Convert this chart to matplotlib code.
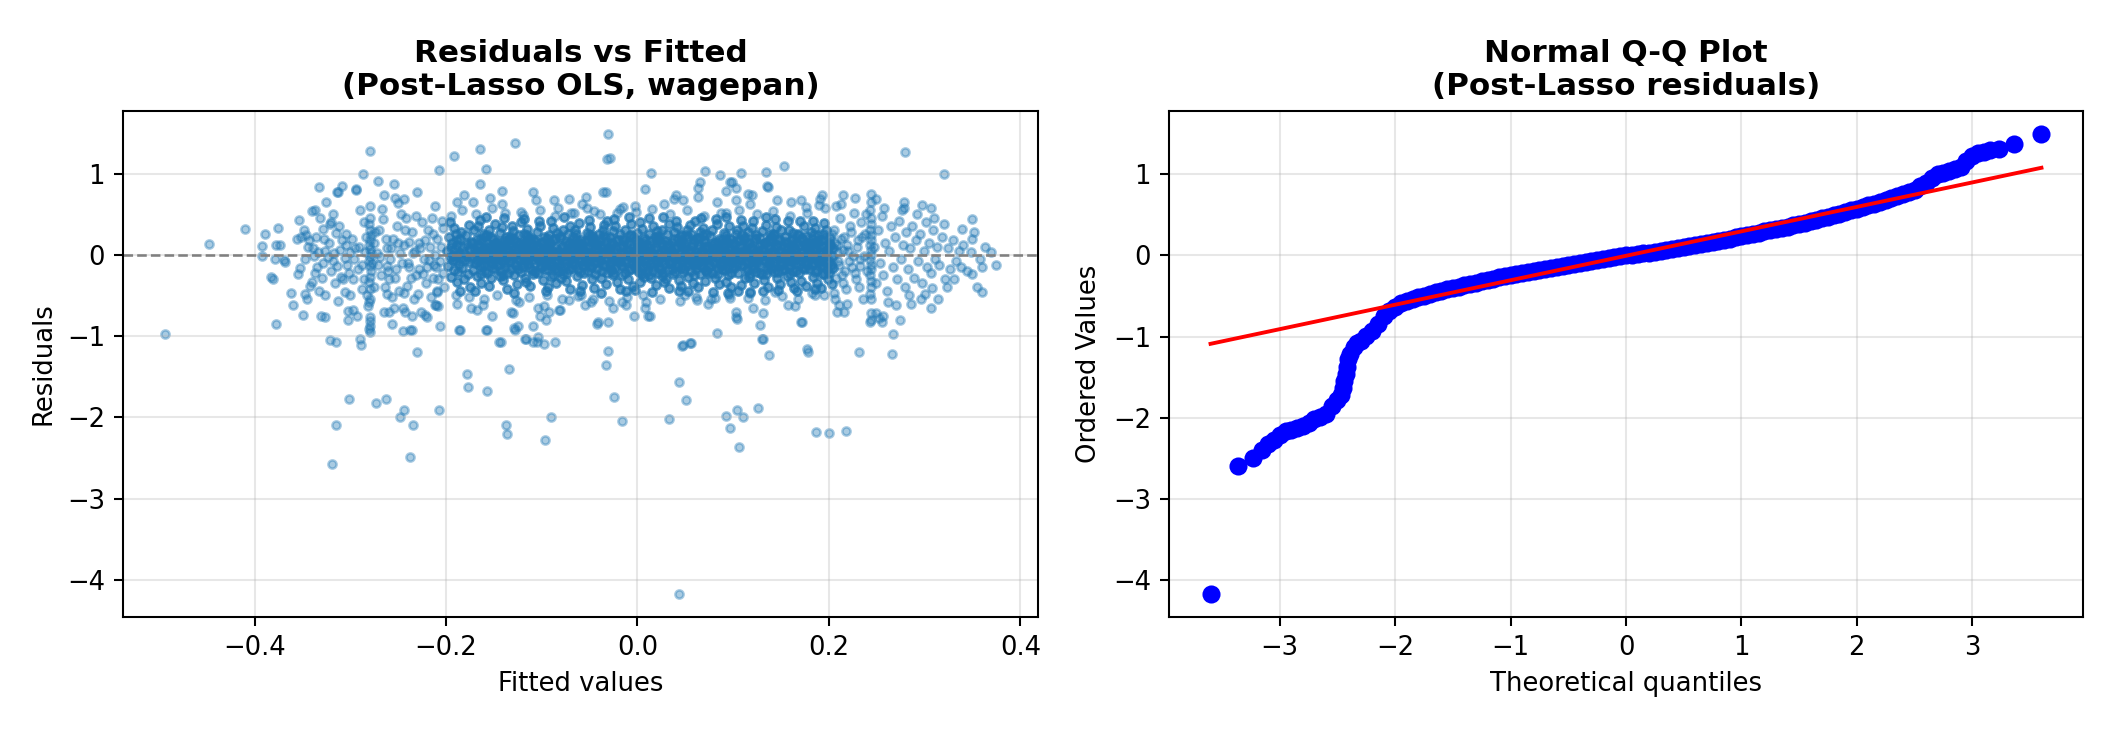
import numpy as np
import matplotlib
matplotlib.use("Agg")
import matplotlib.pyplot as plt

# ---------------- Residuals vs Fitted (fitted x1000, residual x100) ----------------
outlier_points = [
    (-494, -97), (-448, 13), (-410, 32),
    (-319, -257), (-315, -210), (-301, -178), (-273, -182), (-263, -177), (-248, -200),
    (-244, -191), (-234, -209), (-238, -249), (-230, -120), (-207, -191), (-178, -147),
    (-177, -163), (-157, -167), (-137, -209), (-136, -221), (-134, -140), (-97, -228),
    (-90, -200), (-31, -118), (-33, -136), (-24, -175), (-16, -205), (33, -202), (43, -157),
    (51, -179), (43, -417), (47, -112), (55, -109), (93, -198), (97, -213), (104, -191),
    (110, -200), (106, -237), (126, -189), (137, -123), (131, -104),
    (-321, -105), (-315, -107), (-290, -103), (-289, -111), (-143, -107), (-116, -104),
    (-105, -107), (-98, -110), (-86, -107),
    (187, -218), (200, -219), (218, -217), (178, -120), (231, -120), (266, -122), (267, -97),
    (274, -80), (172, -83),
    (-279, 128), (-192, 122), (-165, 130), (-128, 137), (-31, 149), (-32, 118), (-29, 119),
    (279, 126), (320, 99), (153, 109),
]

sparse_points = [
    (-389, 25), (-392, 11), (-378, 12), (-373, 12), (-376, 33), (-392, -1), (-379, -5), (-383, -27),
    (-381, -30), (-362, -47), (-360, -62), (-378, -85), (-354, 43), (-356, 20), (-352, 22), (-353, -16),
    (-355, -24), (-369, -6), (-348, 30), (-346, 24), (-340, 54), (-333, 83), (-332, 45), (-325, 65),
    (-349, -74), (-368, -9),
    (-344, 10), (-338, -2), (-335, -15), (-330, -28), (-326, 5), (-322, 14), (-318, -8), (-315, 27),
    (-312, 36), (-309, 18), (-306, -4), (-303, -12), (-336, 22), (-328, 32), (-320, -20), (-316, -35),
    (-342, -39), (-333, -44), (-326, -50), (-313, -57), (-306, -46), (-331, -75), (-326, -77), (-302, -80),
    (-297, -68), (-310, -27), (-300, 4), (-304, 25), (-318, 50), (-309, 85), (-314, 77), (-294, 81),
    (-340, -33), (-345, -55),
    (-347, -5), (-343, 18), (-339, 8), (-337, -22), (-334, 3), (-329, -10), (-327, 20), (-323, -3),
    (-321, 38), (-317, 2), (-314, -14), (-311, 6), (-308, -30), (-305, 12), (-301, -22), (-298, 20),
    (-296, -5), (-291, 10), (-288, -12), (-285, 3), (-277, -10), (-274, 28), (-272, 2), (-269, -3),
    (-263, 20), (-261, -20), (-257, 8), (-253, -28), (-250, 15), (-246, -10), (-243, 30), (-239, -15),
    (-235, 2), (-231, -25), (-228, 15), (-223, -5), (-220, -15), (-217, 10), (-214, -28), (-211, 0),
    (-209, 20), (-206, -8), (-204, 42), (-202, -40), (-231, 48), (-262, -48), (-288, -42), (-320, 40),
    (-347, -48), (-337, 55),
    (-279, 60), (-279, 45), (-280, 38), (-279, 30), (-278, 24), (-279, 18), (-280, 12), (-279, 7),
    (-278, 2), (-279, -3), (-280, -8), (-279, -14), (-278, -20), (-279, -27), (-280, -34), (-279, -42),
    (-279, -55), (-280, -58), (-279, -76), (-279, -82), (-279, -87), (-280, -91), (-279, -95),
    (-271, 91), (-254, 87), (-265, 73), (-230, 77), (-286, 40), (-284, 22), (-275, 15), (-270, 30),
    (-266, 44), (-262, 8), (-258, -5), (-255, 20), (-251, 35), (-247, 50), (-244, 12), (-240, -10),
    (-236, 28), (-232, 5), (-228, -18), (-225, 40), (-222, 18), (-218, -6), (-214, 25), (-211, 60),
    (-208, -30), (-205, 10), (-203, 33), (-271, -12), (-268, -25), (-264, -40), (-260, -30), (-256, -52),
    (-252, -18), (-249, -45), (-245, -65), (-241, -38), (-237, -28), (-233, -55), (-229, -48), (-226, -70),
    (-221, -35), (-216, -52), (-212, -62), (-209, -45), (-206, -88), (-256, -85), (-245, -94), (-238, -92),
    (-260, -70), (-220, -77), (-208, -63), (-286, -30), (-283, -50), (-292, -18), (-295, 8), (-290, 55),
    (-287, 100), (-282, -63), (-267, 56), (-262, -14), (-250, 64), (-242, 45), (-236, -75), (-224, -24),
    (-215, 45), (-207, 104), (-210, -15), (-203, -22), (-248, 2), (-239, 16), (-227, 8), (-219, 30),
    (-213, -12), (-275, -40), (-297, -30), (-300, -50), (-293, -75), (-253, 70),
    (-302, -69), (-265, -70), (-254, -66), (-243, -71), (-244, -47), (-222, -74), (-210, -62), (-209, -46),
    (-236, -93), (-158, 106), (-164, 87), (-141, 78), (-181, 73), (-154, 70), (-244, 69), (-294, 80),
    (-313, 77),
    (-36, 77), (8, 81), (14, 101), (71, 103), (86, 98), (108, 101), (134, 102), (136, 84), (65, 89),
    (63, 82), (97, 90), (103, 82), (92, 79), (135, 85), (63, 71), (40, 73), (83, 65), (103, 68),
    (120, 73), (146, 68), (160, 65), (171, 67), (191, 69), (193, 73), (215, 73), (207, 60), (249, 69),
    (278, 65), (278, 57), (297, 61), (307, 57), (350, 44), (349, 20), (339, 32), (369, 3), (375, -12),
    (360, -15), (355, -40), (360, -46), (349, -24), (338, -15), (331, -30), (307, -66), (314, -55),
    (308, -41),
    (-15, 59), (-3, 60), (38, 69), (48, 67), (92, 52), (99, 89), (116, 75), (176, 59),
    (-189, 65), (-172, 65), (-109, 77), (-106, 67), (-87, 67), (-72, 69), (-54, 71), (-33, 77),
    (-83, 57), (-122, 53), (-66, 52), (-45, 54), (-18, 56),
    (-190, -50), (-185, -93), (-174, -66), (-168, -68), (-161, -62), (-158, -93), (-152, -75),
    (-145, -107), (-132, -71), (-129, -90), (-124, -58), (-118, -103), (-109, -107), (-109, -88),
    (-104, -66), (-102, -75), (-92, -70), (-81, -68), (-55, -62), (-49, -58), (-42, -85), (-31, -83),
    (-26, -66), (-16, -58), (-4, -75), (11, -75), (9, -58), (-72, -56), (-59, -50),
    (8, -65), (13, -75), (48, -111), (56, -109), (83, -96), (103, -70), (103, -77), (121, -66),
    (131, -72), (128, -86), (130, -103), (165, -63), (171, -83), (177, -116), (208, -70), (211, -62),
    (216, -70), (50, -50), (62, -56), (81, -53), (97, -53), (118, -47), (144, -46), (182, -47),
    (195, -50), (205, -47),
    (-186, -93), (-157, -92), (-128, -93), (-125, -88), (-130, -72), (-104, -101), (-96, -80),
    (-82, -68), (-41, -83), (104, -79),
    (-195, 48), (-183, 55), (-176, -52), (-169, 50), (-160, -55), (-152, 57), (-147, -50), (-138, 52),
    (-127, -56), (-120, 49), (-113, -52), (-102, 55), (-94, -49), (-86, 48), (-79, -55), (-69, 52),
    (-62, -51), (-53, 58), (-46, -54), (-39, 50), (-30, -57), (-21, 51), (-11, -52), (-2, 53), (6, -50),
    (15, 56), (24, -54), (34, 50), (44, -57), (52, 55), (61, -52), (69, 48), (77, -55), (87, 52),
    (96, -50), (106, 55), (115, -53), (125, 50), (133, -56), (142, 54), (151, -51), (159, 48),
    (168, -54), (177, 52), (186, -50), (196, 57),
    (-188, -60), (-142, 62), (-98, -63), (-58, 62), (-12, -62), (28, 63), (74, -61), (118, 62),
    (157, -62), (190, 61),
    (244, 65), (243, 55), (244, 45), (244, 38), (243, 30), (244, 24), (244, 18), (243, 12), (244, 6),
    (244, 0), (243, -6), (244, -12), (244, -18), (243, -25), (244, -32), (244, -40), (243, -48),
    (244, -54), (244, -72), (244, -80), (243, -83), (255, -83), (252, -78), (244, 75), (249, -72),
    (256, -75),
    (205, 30), (208, 12), (210, -8), (212, 45), (214, -25), (216, 22), (218, -42), (220, 5), (222, 35),
    (224, -15), (226, 52), (228, -30), (230, 18), (232, -5), (234, 40), (236, -55), (238, 25), (240, -20),
    (247, 10), (249, -35), (251, 30), (253, -10), (255, 48), (257, -25), (259, 15), (261, -45), (263, 5),
    (265, 35), (267, -15), (269, 22), (271, -30), (273, 42), (275, -5), (277, 12), (279, -40), (281, 28),
    (283, -18), (285, 8), (287, 35), (289, -28), (291, 18), (293, -8), (295, 25), (297, -35), (299, 5),
    (301, 40), (303, -15), (305, 15), (307, -22), (309, 30), (311, -5), (313, 10), (315, -12), (318, 22),
    (321, -30), (324, 8), (327, -18), (330, 18), (333, -8), (336, 5), (340, 12), (344, -20), (348, 4),
    (352, 28), (358, -5), (363, 10), (206, -55), (213, 62), (219, -60), (227, 70), (258, 58), (262, -58),
    (270, -62), (276, 55), (284, -50), (292, 50), (300, -48), (310, 45), (320, 38), (323, -40), (215, -35),
    (231, -40), (239, 50), (286, -60), (296, -55),
    (201, 8), (202, -18), (203, 25), (204, -4), (206, 15), (207, -28), (209, 3), (211, -12), (213, 20),
    (215, 6), (217, -20), (219, 12), (221, -8), (223, 28), (225, -2), (227, -22), (229, 10), (233, -14),
    (235, 22), (237, -2),
]

core_points = [
    (-199, 5), (-198, -14), (-197, 22), (-196, -3), (-195, 9), (-195, -27), (-194, 15), (-193, -1), (-192, 33), (-192, -19),
    (-191, 7), (-190, -8), (-190, 26), (-189, -34), (-189, 12), (-188, 0), (-188, 18), (-187, -21), (-196, 40), (-193, -6),
    (-186, 2), (-186, -11), (-185, 19), (-184, -4), (-184, 28), (-183, -16), (-182, 10), (-181, -30), (-181, 4), (-180, -7),
    (-179, 24), (-178, -2), (-178, 13), (-177, -24), (-176, 37), (-176, -9), (-175, 6), (-175, -40), (-174, 16), (-185, -45),
    (-173, -3), (-173, 14), (-172, -19), (-171, 8), (-171, 30), (-170, -10), (-169, 1), (-168, -26), (-168, 20), (-167, -5),
    (-166, 11), (-165, -14), (-165, 43), (-164, 3), (-163, -35), (-162, 17), (-162, -1), (-161, 25), (-170, -44), (-167, 35),
    (-160, 7), (-160, -12), (-159, 23), (-158, -4), (-157, 15), (-157, -22), (-156, 2), (-155, 31), (-154, -9), (-154, 10),
    (-153, -29), (-152, 5), (-151, -16), (-151, 19), (-150, -1), (-149, 38), (-149, -6), (-148, 13), (-155, -38), (-158, 47),
    (-147, -2), (-146, 16), (-146, -13), (-145, 6), (-144, 27), (-143, -20), (-143, 9), (-142, -6), (-141, 34), (-140, -31),
    (-140, 1), (-139, 12), (-138, -10), (-137, 22), (-137, -3), (-136, -42), (-136, 8), (-135, 18), (-144, -26), (-139, 45),
    (-134, 4), (-133, -8), (-133, 20), (-132, -17), (-131, 11), (-130, -2), (-130, 29), (-129, -25), (-128, 7), (-127, -12),
    (-127, 16), (-126, -36), (-125, 2), (-124, 24), (-124, -5), (-123, 13), (-122, -21), (-122, 40), (-129, -47), (-131, 36),
    (-121, -1), (-120, 9), (-120, -15), (-119, 25), (-118, -6), (-117, 14), (-117, -28), (-116, 3), (-115, 32), (-114, -11),
    (-114, 18), (-113, -3), (-112, -39), (-111, 7), (-111, 21), (-110, -19), (-110, 0), (-109, 12), (-116, -33), (-119, 44),
    (-108, 6), (-107, -10), (-107, 17), (-106, -2), (-105, 28), (-104, -23), (-104, 10), (-103, -7), (-102, 35), (-101, -15),
    (-101, 3), (-100, 14), (-99, -31), (-98, -4), (-98, 22), (-97, -12), (-96, 8), (-96, -44), (-103, 41), (-99, -1),
    (-95, -5), (-94, 12), (-94, -18), (-93, 2), (-92, 24), (-91, -9), (-91, 15), (-90, -27), (-89, 5), (-88, 33),
    (-88, -14), (-87, -1), (-86, 19), (-85, -35), (-85, 8), (-84, -6), (-84, 27), (-83, -20), (-90, 42), (-93, -40),
    (-82, 3), (-81, -13), (-81, 21), (-80, -3), (-79, 11), (-78, -24), (-78, 30), (-77, 0), (-76, -8), (-75, 16),
    (-75, -32), (-74, 6), (-73, 26), (-72, -17), (-72, -1), (-71, 13), (-70, -42), (-70, 36), (-77, 46), (-80, -29),
    (-69, -4), (-68, 9), (-68, -16), (-67, 22), (-66, -2), (-65, 31), (-65, -11), (-64, 4), (-63, -26), (-62, 14),
    (-62, -7), (-61, 39), (-60, -21), (-59, 1), (-59, 18), (-58, -37), (-58, 7), (-57, -13), (-64, 25), (-60, -45),
    (-56, 5), (-55, -9), (-55, 17), (-54, -1), (-53, 27), (-52, -20), (-52, 11), (-51, -5), (-50, 34), (-49, -14),
    (-49, 2), (-48, 20), (-47, -30), (-47, 8), (-46, -3), (-45, 15), (-45, -41), (-44, -10), (-51, 43), (-48, 24),
    (-43, -2), (-42, 13), (-42, -17), (-41, 6), (-40, 25), (-39, -8), (-39, 19), (-38, -28), (-37, 1), (-36, 31),
    (-36, -12), (-35, 9), (-34, -4), (-33, -36), (-33, 16), (-32, -22), (-32, 41), (-31, 3), (-38, -47), (-35, 37),
    (-30, 7), (-29, -11), (-29, 22), (-28, -1), (-27, 14), (-26, -25), (-26, 29), (-25, -6), (-24, 4), (-23, 36),
    (-23, -16), (-22, 10), (-21, -33), (-20, -3), (-20, 18), (-19, -9), (-18, 26), (-18, -42), (-25, 44), (-28, -19),
    (-17, -4), (-16, 11), (-16, -14), (-15, 20), (-14, 1), (-13, -23), (-13, 30), (-12, -7), (-11, 15), (-10, -30),
    (-10, 5), (-9, -1), (-8, 24), (-7, -18), (-7, 38), (-6, -10), (-6, 8), (-5, -38), (-12, -45), (-9, 47),
    (-4, 3), (-3, -12), (-2, 18), (-1, -5), (0, 27), (1, -20), (1, 9), (2, -2), (3, -33), (4, 14),
    (4, -8), (5, 32), (6, -15), (6, 0), (7, 21), (7, -27), (8, 6), (-3, -43), (3, 40), (5, -24),
    (9, -6), (10, 12), (10, -19), (11, 4), (12, 26), (13, -11), (13, 17), (14, -29), (15, 2), (16, 35),
    (16, -14), (17, -1), (18, 22), (19, -37), (19, 9), (20, -8), (20, 29), (21, -22), (12, 45), (15, -46),
    (22, 1), (23, -15), (23, 20), (24, -4), (25, 13), (26, -26), (26, 31), (27, -7), (28, 6), (28, -34),
    (29, 17), (30, -2), (31, 25), (32, -19), (32, 10), (33, -41), (33, 38), (34, -10), (27, 47), (30, -30),
    (35, 5), (36, -9), (36, 16), (37, -1), (38, 28), (39, -21), (39, 8), (40, -13), (41, 34), (42, -4),
    (42, 19), (43, -31), (44, 2), (45, 23), (45, -16), (46, -39), (46, 12), (47, -6), (40, 42), (43, -44),
    (48, -3), (49, 14), (49, -17), (50, 6), (51, 24), (52, -10), (52, 30), (53, -27), (54, 3), (55, -6),
    (55, 37), (56, -20), (57, 11), (58, -1), (58, -35), (59, 18), (60, -12), (60, 41), (53, -45), (56, 26),
    (61, 2), (62, -11), (62, 21), (63, -3), (64, 12), (65, -24), (65, 28), (66, -8), (67, 5), (68, 33),
    (68, -15), (69, -1), (70, 17), (71, -32), (71, 9), (72, -19), (72, 26), (73, -5), (66, 45), (63, -40),
    (74, -4), (75, 10), (75, -14), (76, 23), (77, 0), (78, -22), (78, 31), (79, -9), (80, 15), (81, -29),
    (81, 4), (82, -2), (83, 38), (84, -17), (84, 7), (85, -36), (85, 20), (86, -10), (79, -46), (82, 44),
    (87, 6), (88, -12), (88, 18), (89, -2), (90, 27), (91, -19), (91, 11), (92, -6), (93, -33), (94, 14),
    (94, 1), (95, -25), (96, 35), (96, -8), (97, 20), (98, -40), (98, 3), (99, -15), (92, 46), (95, -47),
    (100, -1), (101, 13), (101, -16), (102, 5), (103, 25), (104, -11), (104, 30), (105, -23), (106, 2), (107, -5),
    (107, 18), (108, -37), (109, 9), (110, -13), (110, 36), (111, -2), (112, 22), (112, -28), (105, -44), (108, 43),
    (113, 4), (114, -8), (114, 15), (115, -18), (116, 28), (117, 1), (117, -27), (118, 10), (119, -4), (120, 33),
    (120, -14), (121, 7), (122, -35), (123, 19), (123, -9), (124, 24), (124, -21), (125, 0), (118, -46), (121, 41),
    (126, -5), (127, 11), (127, -13), (128, 21), (129, -1), (130, -24), (130, 29), (131, 6), (132, -31), (133, 15),
    (133, -7), (134, 37), (135, -17), (135, 2), (136, -40), (137, 18), (137, -10), (138, 25), (131, -45), (134, 46),
    (139, 3), (140, -15), (140, 17), (141, -4), (142, 26), (143, -21), (143, 8), (144, -9), (145, 34), (146, -28),
    (146, 12), (147, -2), (148, 20), (149, -36), (149, 5), (150, -12), (150, 30), (151, -19), (144, 44), (147, -43),
    (152, -3), (153, 9), (153, -18), (154, 22), (155, 1), (156, -26), (156, 14), (157, -6), (158, 31), (159, -13),
    (159, 4), (160, -33), (161, 18), (161, -1), (162, 27), (163, -20), (163, 10), (164, -41), (157, 42), (160, -8),
    (165, 6), (166, -10), (166, 16), (167, -2), (168, 25), (169, -22), (169, 12), (170, -7), (171, -32), (172, 19),
    (172, 2), (173, -16), (174, 35), (174, -4), (175, 13), (176, -38), (176, 23), (177, -11), (170, 41), (167, -45),
    (178, -1), (179, 11), (179, -17), (180, 4), (181, 28), (182, -12), (182, 20), (183, -27), (184, 7), (185, -5),
    (185, 33), (186, -21), (187, 14), (188, -2), (188, -35), (189, 24), (190, -9), (190, 9), (183, 42), (186, -42),
    (191, 3), (192, -14), (192, 18), (193, -6), (194, 26), (195, -24), (195, 10), (196, -1), (197, 31), (198, -18),
    (198, 5), (199, -30), (200, 15), (200, -8), (201, 21), (202, -12), (203, -36), (204, 8), (195, 39), (192, -41),
]

core_dense_points = [
    (-170, 3), (-168, -8), (-167, 12), (-165, -2), (-164, 19), (-162, -14), (-161, 6), (-159, -20), (-158, 1), (-156, 10),
    (-155, -5), (-153, 22), (-152, -11), (-150, 4), (-149, -17), (-148, 14), (-147, -1), (-146, 8), (-163, -24), (-157, 24),
    (-145, -3), (-144, 11), (-142, -9), (-141, 2), (-139, 17), (-138, -15), (-137, 5), (-135, -22), (-134, 13), (-132, -4),
    (-131, 0), (-129, 20), (-128, -12), (-126, 7), (-125, -18), (-124, 15), (-123, -6), (-121, 9), (-140, -25), (-133, 23),
    (-120, 4), (-119, -10), (-117, 13), (-116, -1), (-114, 21), (-113, -16), (-111, 6), (-110, -7), (-108, 18), (-107, -21),
    (-105, 2), (-104, 12), (-103, -4), (-101, -13), (-100, 16), (-98, 7), (-97, -19), (-96, -2), (-115, 24), (-109, -24),
    (-95, 8), (-93, -5), (-92, 14), (-90, -12), (-89, 1), (-87, 19), (-86, -17), (-84, 5), (-83, -8), (-81, 23),
    (-80, -1), (-78, 10), (-77, -14), (-75, 3), (-74, -22), (-72, 15), (-71, -6), (-88, -25), (-79, -19), (-94, 21),
    (-70, 2), (-68, -11), (-67, 15), (-65, -3), (-64, 20), (-62, -18), (-61, 7), (-59, -6), (-58, 12), (-56, -23),
    (-55, 4), (-53, 17), (-52, -9), (-50, 1), (-49, -15), (-47, 22), (-46, -2), (-63, 9), (-57, -13), (-51, 24),
    (-45, 6), (-43, -9), (-42, 16), (-40, -2), (-39, 11), (-37, -20), (-36, 3), (-34, -12), (-33, 21), (-31, -5),
    (-30, 8), (-28, -16), (-27, 13), (-25, -1), (-24, -23), (-22, 18), (-21, -7), (-44, -24), (-35, 24), (-29, 1),
    (-20, -4), (-18, 10), (-17, -13), (-15, 4), (-14, 17), (-12, -9), (-11, 1), (-9, -19), (-8, 13), (-6, -3),
    (-5, 22), (-3, -15), (-2, 6), (0, -7), (1, 15), (3, -22), (4, 2), (-16, -25), (-7, 24), (2, -11),
    (5, 9), (7, -6), (8, 18), (10, -14), (11, 3), (13, -2), (14, 12), (16, -20), (17, 7), (19, -9),
    (20, 20), (22, -4), (23, 1), (25, -17), (26, 14), (28, -11), (29, 5), (12, -25), (21, 23), (27, -23),
    (30, -1), (32, 13), (33, -10), (35, 6), (36, -18), (38, 19), (39, -3), (41, 9), (42, -14), (44, 2),
    (45, 16), (47, -8), (48, -21), (50, 11), (51, -1), (53, 22), (54, -12), (37, -24), (46, 24), (31, 4),
    (55, 5), (57, -9), (58, 14), (60, -2), (61, -17), (63, 8), (64, 21), (66, -12), (67, 1), (69, -6),
    (70, 17), (72, -20), (73, 10), (75, -3), (76, -14), (78, 12), (79, -1), (59, -25), (68, 24), (74, -23),
    (80, 7), (82, -11), (83, 16), (85, -4), (86, 3), (88, -18), (89, 12), (91, -7), (92, 20), (94, -1),
    (95, -15), (97, 9), (98, -22), (100, 14), (101, -5), (103, 2), (104, 18), (84, -24), (93, 24), (99, -9),
    (105, -2), (107, 11), (108, -13), (110, 5), (111, 19), (113, -8), (114, -19), (116, 1), (117, 14), (119, -4),
    (120, 8), (122, -16), (123, 21), (125, -10), (126, 3), (128, -23), (129, 13), (109, 24), (118, -24), (124, -1),
    (130, 6), (132, -7), (133, 15), (135, -1), (136, -14), (138, 10), (139, 22), (141, -18), (142, 2), (144, -5),
    (145, 12), (147, -21), (148, 18), (150, -9), (151, 4), (153, -2), (154, 16), (134, -24), (143, 24), (149, -12),
    (155, -3), (157, 9), (158, -15), (160, 2), (161, 19), (163, -8), (164, 6), (166, -20), (167, 13), (169, -1),
    (170, -11), (172, 21), (173, 4), (175, -17), (176, 10), (178, -6), (179, 15), (159, -24), (168, 24), (174, -2),
    (180, 3), (182, -10), (183, 14), (185, -3), (186, 8), (188, -19), (189, 17), (191, -6), (192, 1), (194, -14),
    (195, 20), (197, -9), (198, 5), (200, -22), (201, 12), (203, -1), (204, -16), (184, 24), (193, -24), (199, 10),
]

# ---------------- Normal Q-Q plot ----------------
qq_theoretical = [
    -3.60, -3.36, -3.23, -3.15, -3.10, -3.05, -3.00, -2.95, -2.90, -2.85, -2.80, -2.75, -2.70, -2.65,
    -2.60, -2.55, -2.50, -2.47, -2.45, -2.44, -2.43, -2.42, -2.41, -2.39, -2.36, -2.33, -2.30, -2.25,
    -2.20, -2.15, -2.10, -2.05, -2.00, -1.95, -1.90, -1.85, -1.80, -1.75, -1.70, -1.65, -1.60, -1.55,
    -1.50, -1.45, -1.40, -1.35, -1.30, -1.25, -1.20, -1.15, -1.10, -1.05, -1.00, -0.95, -0.90, -0.85,
    -0.80, -0.75, -0.70, -0.65, -0.60, -0.55, -0.50, -0.45, -0.40, -0.35, -0.30, -0.25, -0.20, -0.15,
    -0.10, -0.05, 0.00, 0.05, 0.10, 0.15, 0.20, 0.25, 0.30, 0.35, 0.40, 0.45, 0.50, 0.55, 0.60, 0.65,
    0.70, 0.75, 0.80, 0.85, 0.90, 0.95, 1.00, 1.05, 1.10, 1.15, 1.20, 1.25, 1.30, 1.35, 1.40, 1.45,
    1.50, 1.55, 1.60, 1.65, 1.70, 1.75, 1.80, 1.85, 1.90, 1.95, 2.00, 2.05, 2.10, 2.15, 2.20, 2.25,
    2.30, 2.35, 2.40, 2.45, 2.50, 2.55, 2.60, 2.65, 2.70, 2.75, 2.80, 2.85, 2.90, 2.95, 3.00, 3.05,
    3.10, 3.15, 3.23, 3.36, 3.60,
]
qq_ordered = [
    -4.17, -2.59, -2.50, -2.40, -2.33, -2.27, -2.21, -2.17, -2.15, -2.13, -2.10, -2.06, -2.02, -1.99,
    -1.95, -1.86, -1.78, -1.72, -1.64, -1.55, -1.46, -1.37, -1.28, -1.21, -1.13, -1.08, -1.05, -0.99,
    -0.93, -0.84, -0.75, -0.68, -0.63, -0.59, -0.56, -0.535, -0.515, -0.495, -0.475, -0.455, -0.44, -0.42,
    -0.40, -0.385, -0.37, -0.35, -0.335, -0.32, -0.30, -0.285, -0.27, -0.255, -0.24, -0.228, -0.215, -0.203,
    -0.19, -0.178, -0.165, -0.153, -0.14, -0.128, -0.115, -0.103, -0.09, -0.08, -0.068, -0.057, -0.045, -0.034,
    -0.022, -0.011, 0.00, 0.009, 0.018, 0.027, 0.035, 0.045, 0.055, 0.065, 0.075, 0.087, 0.10, 0.112, 0.125, 0.138,
    0.152, 0.166, 0.18, 0.193, 0.207, 0.221, 0.235, 0.25, 0.265, 0.28, 0.295, 0.31, 0.325, 0.34, 0.355, 0.372,
    0.39, 0.405, 0.42, 0.438, 0.457, 0.476, 0.495, 0.515, 0.535, 0.555, 0.575, 0.595, 0.617, 0.638, 0.66, 0.685,
    0.71, 0.735, 0.76, 0.785, 0.81, 0.85, 0.89, 0.96, 1.00, 1.02, 1.04, 1.06, 1.09, 1.16, 1.22, 1.26,
    1.28, 1.30, 1.31, 1.375, 1.50,
]
qq_line_x = [-3.60, 3.60]
qq_line_y = [-1.09, 1.08]


def unpack(points):
    arr = np.array(points, dtype=float)
    return arr[:, 0] / 1000.0, arr[:, 1] / 100.0


DPI = 186
W, H = 2112, 729
fig = plt.figure(figsize=(W / DPI, H / DPI), dpi=DPI)
ax1 = fig.add_axes([123 / W, 1 - 616.7 / H, (1038 - 123) / W, (616.7 - 110.7) / H])
ax2 = fig.add_axes([1169 / W, 1 - 616.7 / H, (2083 - 1169) / W, (616.7 - 110.7) / H])

blue = "#1f77b4"
for pts, a in [(outlier_points, 0.38), (sparse_points, 0.4),
               (core_points, 0.7), (core_dense_points, 0.7)]:
    fx, rs = unpack(pts)
    ax1.scatter(fx, rs, s=10, alpha=a, color=blue)
ax1.axhline(0, color="gray", linestyle="--", linewidth=1)
ax1.set_xlabel("Fitted values")
ax1.set_ylabel("Residuals")
ax1.set_title("Residuals vs Fitted\n(Post-Lasso OLS, wagepan)", fontsize=12, fontweight="bold")
ax1.grid(True, alpha=0.3)

ax2.plot(qq_theoretical, qq_ordered, "o", color="blue", markersize=6)
ax2.plot(qq_line_x, qq_line_y, "-", color="red", linewidth=1.5)
ax2.set_xlabel("Theoretical quantiles")
ax2.set_ylabel("Ordered Values")
ax2.set_title("Normal Q-Q Plot\n(Post-Lasso residuals)", fontsize=12, fontweight="bold")
ax2.grid(True, alpha=0.3)

fig.savefig("out.png", dpi=DPI)
